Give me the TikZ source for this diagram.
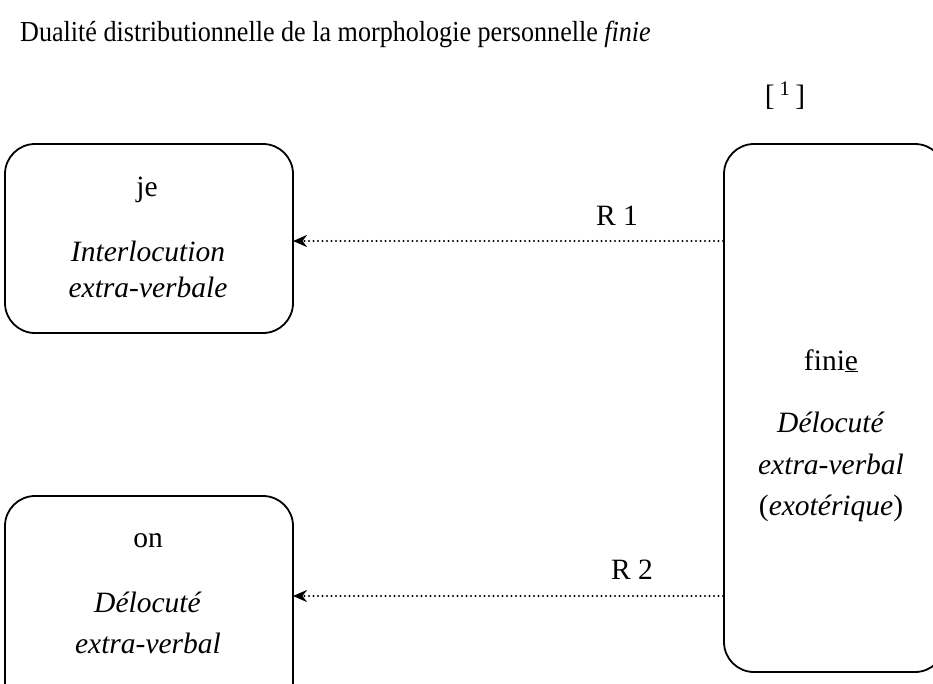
\documentclass[tikz,border=0pt]{standalone}
\usepackage{fontspec}
\setmainfont{Liberation Serif}
\newfontfamily\titlefont[FakeStretch=0.9]{Liberation Serif}
\usetikzlibrary{arrows.meta}
\begin{document}
\begin{tikzpicture}[x=1pt,y=-1pt,
  box/.style={draw,line width=1.8pt,rounded corners=30pt},
  lbl/.style={font=\fontsize{29.5}{34}\selectfont,inner sep=0pt},
  rel/.style={line width=2.2pt,line cap=round,dash pattern=on 0pt off 4.5pt,
    -{Stealth[length=14pt,width=12pt,inset=4.5pt,sep=0pt]}}]
\useasboundingbox (0,0) rectangle (933,683);
\node[anchor=base west,inner sep=0pt,font=\titlefont\fontsize{29}{34}\selectfont] (title) at (20,41) {Dualité distributionnelle de la morphologie personnelle \textit{finie}};
\node[lbl,anchor=base] (ref) at (785,105) {[\,\textsuperscript{1}\,]};
\draw[box] (5,144) rectangle (293,333);
\draw[box] (5,496) rectangle (293,720);
\draw[box] (724,144) rectangle (945,672);
\coordinate (jeR) at (293,241);
\coordinate (onR) at (293,596);
\coordinate (fiA) at (723,241);
\coordinate (fiB) at (723,596);
\draw[rel] (fiA) -- (jeR);
\draw[rel] (fiB) -- (onR);
\node[lbl,anchor=base] (r1) at (617,225) {R 1};
\node[lbl,anchor=base] (r2) at (632,579) {R 2};
\node[lbl,anchor=base] (je) at (147,196) {je};
\node[lbl,anchor=base] (je1) at (148,261) {\textit{Interlocution}};
\node[lbl,anchor=base] (je2) at (148,297) {\textit{extra-verbale}};
\node[lbl,anchor=base] (on) at (148,547) {on};
\node[lbl,anchor=base] (on1) at (148,612) {\textit{Délocuté}};
\node[lbl,anchor=base] (on2) at (148,653) {\textit{extra-verbal}};
\node[lbl,anchor=base] (fi) at (831,370) {fini\underline{e}};
\node[lbl,anchor=base] (fi1) at (831,432) {\textit{Délocuté}};
\node[lbl,anchor=base] (fi2) at (831,474) {\textit{extra-verbal}};
\node[lbl,anchor=base] (fi3) at (831,515) {(\textit{exotérique})};
\end{tikzpicture}
\end{document}
